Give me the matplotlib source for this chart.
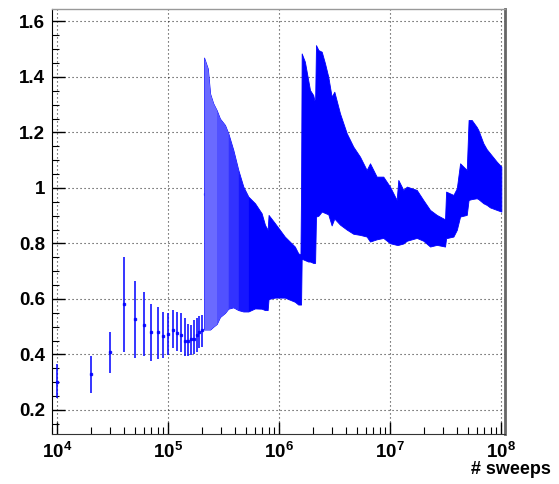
import numpy as np
import matplotlib
matplotlib.use('Agg')
from matplotlib import pyplot as plt
from matplotlib.ticker import MultipleLocator, LogLocator, FuncFormatter, NullFormatter

# first sweeps: single points with errors
early_x = [1e4, 2e4, 3e4, 4e4, 5e4, 6e4, 7e4, 8e4, 9e4, 1e5,
           1.1e5, 1.2e5, 1.3e5, 1.4e5, 1.5e5, 1.6e5, 1.7e5, 1.8e5, 1.9e5, 2.0e5]
early_y = [0.30, 0.329, 0.41, 0.581, 0.527, 0.506, 0.48, 0.48, 0.468, 0.473,
           0.488, 0.476, 0.472, 0.45, 0.45, 0.455, 0.455, 0.47, 0.482, 0.488]
early_lo = [0.245, 0.261, 0.333, 0.408, 0.386, 0.395, 0.377, 0.384, 0.386, 0.398,
            0.422, 0.414, 0.41, 0.395, 0.395, 0.398, 0.40, 0.41, 0.422, 0.428]
early_hi = [0.365, 0.395, 0.482, 0.752, 0.665, 0.624, 0.582, 0.57, 0.552, 0.548,
            0.56, 0.554, 0.548, 0.53, 0.51, 0.507, 0.524, 0.53, 0.54, 0.542]

# later sweeps: error bars too dense, read as lower/upper envelope
band_x = [2.1e5, 2.27e5, 2.38e5, 2.54e5, 2.73e5, 2.92e5, 3.24e5, 3.47e5, 3.85e5, 4.27e5,
          4.74e5, 5.26e5, 6.04e5, 6.93e5, 7.43e5, 7.85e5, 8.0e5, 9.14e5, 1.12e6, 1.38e6,
          1.48e6, 1.55e6, 1.57e6, 1.59e6, 1.70e6, 1.82e6, 1.89e6, 2.02e6, 2.10e6, 2.14e6,
          2.25e6, 2.41e6, 2.58e6, 2.76e6, 2.96e6, 3.13e6, 3.52e6, 4.05e6, 4.64e6, 5.33e6,
          6.12e6, 6.56e6, 7.53e6, 8.64e6, 9.93e6, 1.14e7, 1.18e7, 1.31e7, 1.41e7, 1.73e7,
          1.98e7, 2.28e7, 2.62e7, 3.11e7, 3.18e7, 3.70e7, 3.97e7, 4.25e7, 4.88e7, 5.07e7,
          5.41e7, 6.00e7, 6.21e7, 6.89e7, 7.38e7, 7.91e7, 9.09e7, 1.0e8]
band_lo = [0.49, 0.49, 0.49, 0.50, 0.51, 0.535, 0.55, 0.565, 0.57, 0.56,
           0.555, 0.555, 0.566, 0.565, 0.56, 0.56, 0.60, 0.605, 0.605, 0.59,
           0.58, 0.58, 0.58, 0.745, 0.74, 0.735, 0.735, 0.73, 0.73, 0.897,
           0.90, 0.915, 0.91, 0.905, 0.865, 0.89, 0.868, 0.85, 0.835, 0.831,
           0.825, 0.807, 0.815, 0.82, 0.801, 0.795, 0.795, 0.80, 0.81, 0.82,
           0.81, 0.789, 0.795, 0.789, 0.819, 0.825, 0.849, 0.897, 0.903, 0.957,
           0.96, 0.963, 0.96, 0.945, 0.939, 0.93, 0.921, 0.915]
band_hi = [1.47, 1.43, 1.34, 1.305, 1.28, 1.25, 1.227, 1.197, 1.137, 1.065,
           1.005, 0.969, 0.945, 0.909, 0.867, 0.849, 0.903, 0.873, 0.825, 0.789,
           0.765, 0.76, 1.0, 1.485, 1.455, 1.389, 1.353, 1.335, 1.305, 1.515,
           1.497, 1.491, 1.449, 1.401, 1.329, 1.347, 1.269, 1.197, 1.149, 1.113,
           1.065, 1.089, 1.041, 1.041, 1.005, 0.957, 1.029, 0.993, 1.005, 0.993,
           0.957, 0.921, 0.903, 0.887, 0.987, 0.975, 0.999, 1.089, 1.065, 1.245,
           1.245, 1.22, 1.209, 1.161, 1.14, 1.125, 1.095, 1.077]

# central values visible in the sparse part of the band
mid_x = [2.14e5, 2.29e5, 2.54e5, 2.73e5, 2.92e5, 3.24e5, 3.47e5, 3.85e5, 4.27e5]
mid_y = [0.98, 0.945, 0.896, 0.88, 0.873, 0.896, 0.88, 0.849, 0.81]

plt.rcParams['font.family'] = ['Liberation Sans', 'DejaVu Sans']
plt.rcParams['font.weight'] = 'bold'
plt.rcParams['mathtext.fontset'] = 'custom'
plt.rcParams['mathtext.rm'] = 'Liberation Sans:bold'
plt.rcParams['mathtext.it'] = 'Liberation Sans:bold'
plt.rcParams['mathtext.bf'] = 'Liberation Sans:bold'

fig = plt.figure(figsize=(5.59, 4.84), dpi=100)
ax = fig.add_axes([0.0930, 0.1033, 0.8104, 0.8781])

blue = '#0000ff'
bx = np.array(band_x)
ax.fill_between(bx, band_lo, band_hi, color=blue, linewidth=0.6, edgecolor=blue, zorder=3)
ax.plot(mid_x, mid_y, 's', color=blue, markersize=1.3, linestyle='none', zorder=3.5)
# the first part of the band is made of separated bars, so it looks lighter
fades = [(2.1e5, 2.73e5, 0.42), (2.73e5, 3.47e5, 0.32), (3.47e5, 4.27e5, 0.2), (4.27e5, 5.26e5, 0.09)]
for a, b, al in fades:
    m = (bx >= a) & (bx <= b)
    ax.fill_between(bx, band_lo, band_hi, where=m, color='white', alpha=al,
                    linewidth=0, zorder=4)

ey = np.array(early_y)
yerr = [ey - np.array(early_lo), np.array(early_hi) - ey]
ax.errorbar(early_x, early_y, yerr=yerr, fmt='s', color=blue, ecolor=blue,
            markersize=1.5, elinewidth=1.3, capsize=0, alpha=0.85, zorder=3)

ax.set_xscale('log')
ax.set_xlim(8955, 1.079e8)
ax.set_ylim(0.1135, 1.645)

ax.yaxis.set_major_locator(MultipleLocator(0.2))
ax.yaxis.set_minor_locator(MultipleLocator(0.05))
ax.yaxis.set_major_formatter(FuncFormatter(lambda v, p: ('%g' % round(v, 2))))
ax.xaxis.set_major_locator(LogLocator(base=10, numticks=10))
ax.xaxis.set_minor_locator(LogLocator(base=10, subs=np.arange(2, 10), numticks=20))
ax.xaxis.set_minor_formatter(NullFormatter())
ax.xaxis.set_major_formatter(FuncFormatter(lambda v, p: r'$10^{%d}$' % int(round(np.log10(v)))))

ax.tick_params(which='both', direction='in', top=False, right=False, colors='black')
ax.tick_params(which='major', length=9, width=1.0, labelsize=13.5, pad=5)
ax.tick_params(which='minor', length=5, width=0.8)
ax.tick_params(axis='x', which='major', pad=6)

ax.grid(True, which='major', linestyle=(0, (1, 2.6)), color='black', linewidth=0.8, alpha=0.8)
ax.set_axisbelow(True)

ax.spines['left'].set_color('black')
ax.spines['bottom'].set_color('#333333')
ax.spines['top'].set_color('#999999')
ax.spines['top'].set_linewidth(1.0)
ax.spines['right'].set_color('#666666')
ax.spines['right'].set_linewidth(2.0)

fig.text(0.9857, 0.029, '# sweeps', ha='right', va='center', fontsize=13, fontweight='bold')

fig.savefig('out.png', dpi=100)
